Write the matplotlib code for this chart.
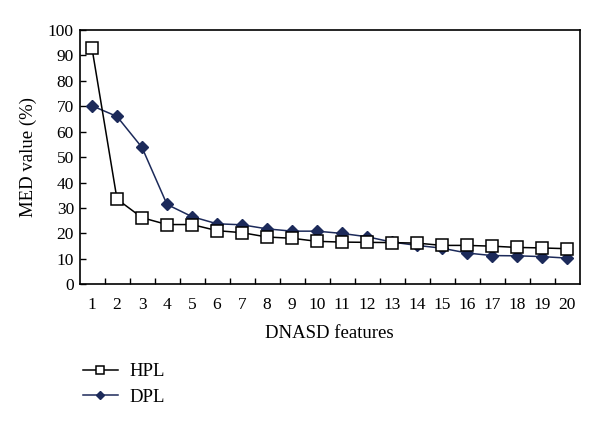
import matplotlib.pyplot as plt
import numpy as np

features = list(range(1, 21))
hpl = [92.8, 33.5, 26.2, 23.5, 23.5, 21.1, 20.3, 18.6, 18.1, 16.9,
       16.6, 16.5, 16.4, 16.2, 15.3, 15.3, 15.0, 14.5, 14.3, 14.0]
dpl = [70.2, 66.0, 53.8, 31.4, 26.6, 23.8, 23.4, 21.8, 20.9, 20.9,
       20.0, 18.7, 16.6, 15.3, 14.2, 12.3, 11.3, 11.2, 10.9, 10.3]

navy = '#1c2a5a'
plt.rcParams['font.family'] = ['Liberation Serif', 'DejaVu Serif']

fig = plt.figure(figsize=(6, 4.26), dpi=100)
ax = fig.add_axes([0.1325, 0.3326, 0.8335, 0.597])

ax.plot(features, hpl, color='black', lw=1.1, marker='s', ms=8,
        mfc='white', mec='black', mew=1.1, label='HPL', zorder=3)
ax.plot(features, dpl, color=navy, lw=1.1, marker='D', ms=6,
        mfc=navy, mec=navy, label='DPL', zorder=2)

ax.set_xlim(0.5, 20.5)
ax.set_ylim(0, 100)
ax.set_yticks(np.arange(0, 101, 10))
ax.set_xticks(features)
ax.set_xticks(np.arange(1.5, 20.5, 1), minor=True)
ax.tick_params(axis='x', which='major', length=0, pad=9, labelsize=12.5)
ax.tick_params(axis='x', which='minor', length=4, direction='in', width=1)
ax.tick_params(axis='y', length=4, direction='in', width=1, labelsize=12.5, pad=4)
for s in ax.spines.values():
    s.set_linewidth(1.2)

ax.set_xlabel('DNASD features', fontsize=13.5, labelpad=9)
ax.set_ylabel('MED value (%)', fontsize=13.5, labelpad=8)

fig.legend(loc='upper left', bbox_to_anchor=(83 / 600, 1 - 363 / 426),
           frameon=False, fontsize=13.5, handlelength=1.85, handletextpad=0.65,
           labelspacing=0.45, borderpad=0, borderaxespad=0, markerscale=0.75)

fig.savefig('out.png', dpi=100)
